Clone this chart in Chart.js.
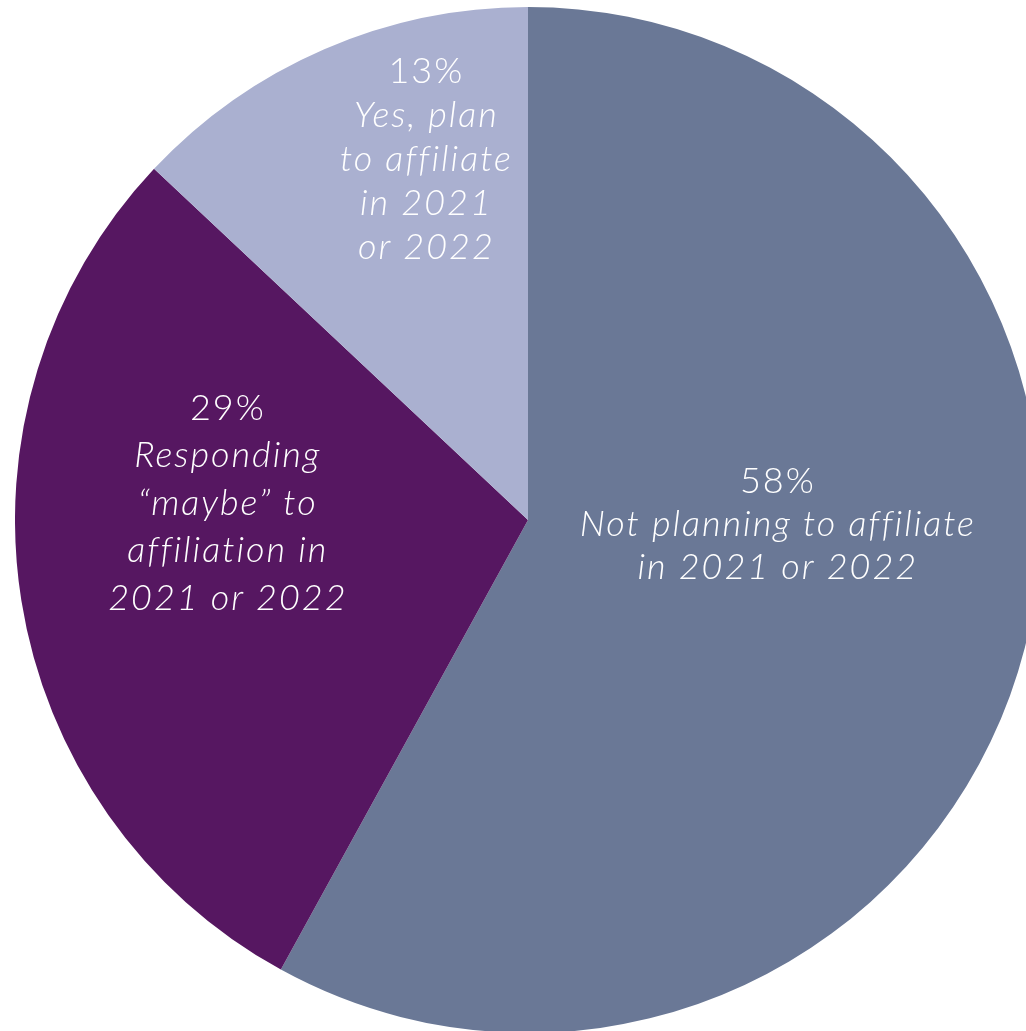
<!DOCTYPE html>
<html>
<head>
<meta charset="utf-8">
<script src="https://cdn.jsdelivr.net/npm/chart.js@4"></script>
<style>
  html, body { margin: 0; padding: 0; background: #fff; overflow: hidden; width: 1026px; height: 1031px; }
  #wrap { position: absolute; left: 15px; top: 7px; width: 1026px; height: 1026px; }
</style>
</head>
<body>
<div id="wrap"><canvas id="pie" width="1026" height="1026"></canvas></div>
<script>
// data
const categories = [
  "Not planning to affiliate in 2021 or 2022",
  "Responding \u201cmaybe\u201d to affiliation in 2021 or 2022",
  "Yes, plan to affiliate in 2021 or 2022"
];
const shares = [58, 29, 13];
const labelLines = [
  ["Not planning to affiliate", "in 2021 or 2022"],
  ["Responding", "\u201cmaybe\u201d to", "affiliation in", "2021 or 2022"],
  ["Yes, plan", "to affiliate", "in 2021", "or 2022"]
];
const sliceColors = ["#6a7896", "#561761", "#aab0d0"];

// label placement, as fraction of the radius from the pie centre, and line height
const labelOffset = [[0.485, 0.008], [-0.587, -0.033], [-0.2, -0.702]];
const labelLineHeight = [43, 47.5, 44];

const sliceLabels = {
  id: "sliceLabels",
  afterDatasetsDraw(chart) {
    const ctx = chart.ctx;
    const meta = chart.getDatasetMeta(0);
    ctx.save();
    ctx.fillStyle = "#ffffff";
    ctx.textAlign = "center";
    ctx.textBaseline = "middle";
    ctx.letterSpacing = "2px";
    meta.data.forEach((arc, i) => {
      const r = arc.outerRadius;
      const lh = labelLineHeight[i];
      const cx = arc.x + labelOffset[i][0] * r + 1;
      const cy = arc.y + labelOffset[i][1] * r;
      const lines = [shares[i] + "%"].concat(labelLines[i]);
      let y = cy - (lines.length - 1) * lh / 2;
      lines.forEach((t, k) => {
        ctx.font = (k === 0 ? "" : "italic ") + "300 36px Lato";
        ctx.fillText(t, cx, y);
        y += lh;
      });
    });
    ctx.restore();
  }
};

new Chart(document.getElementById("pie"), {
  type: "pie",
  data: {
    labels: categories,
    datasets: [{
      data: shares,
      backgroundColor: sliceColors,
      borderWidth: 0
    }]
  },
  options: {
    responsive: false,
    animation: false,
    layout: { padding: 0 },
    plugins: {
      legend: { display: false },
      tooltip: { enabled: false }
    }
  },
  plugins: [sliceLabels]
});
</script>
</body>
</html>
